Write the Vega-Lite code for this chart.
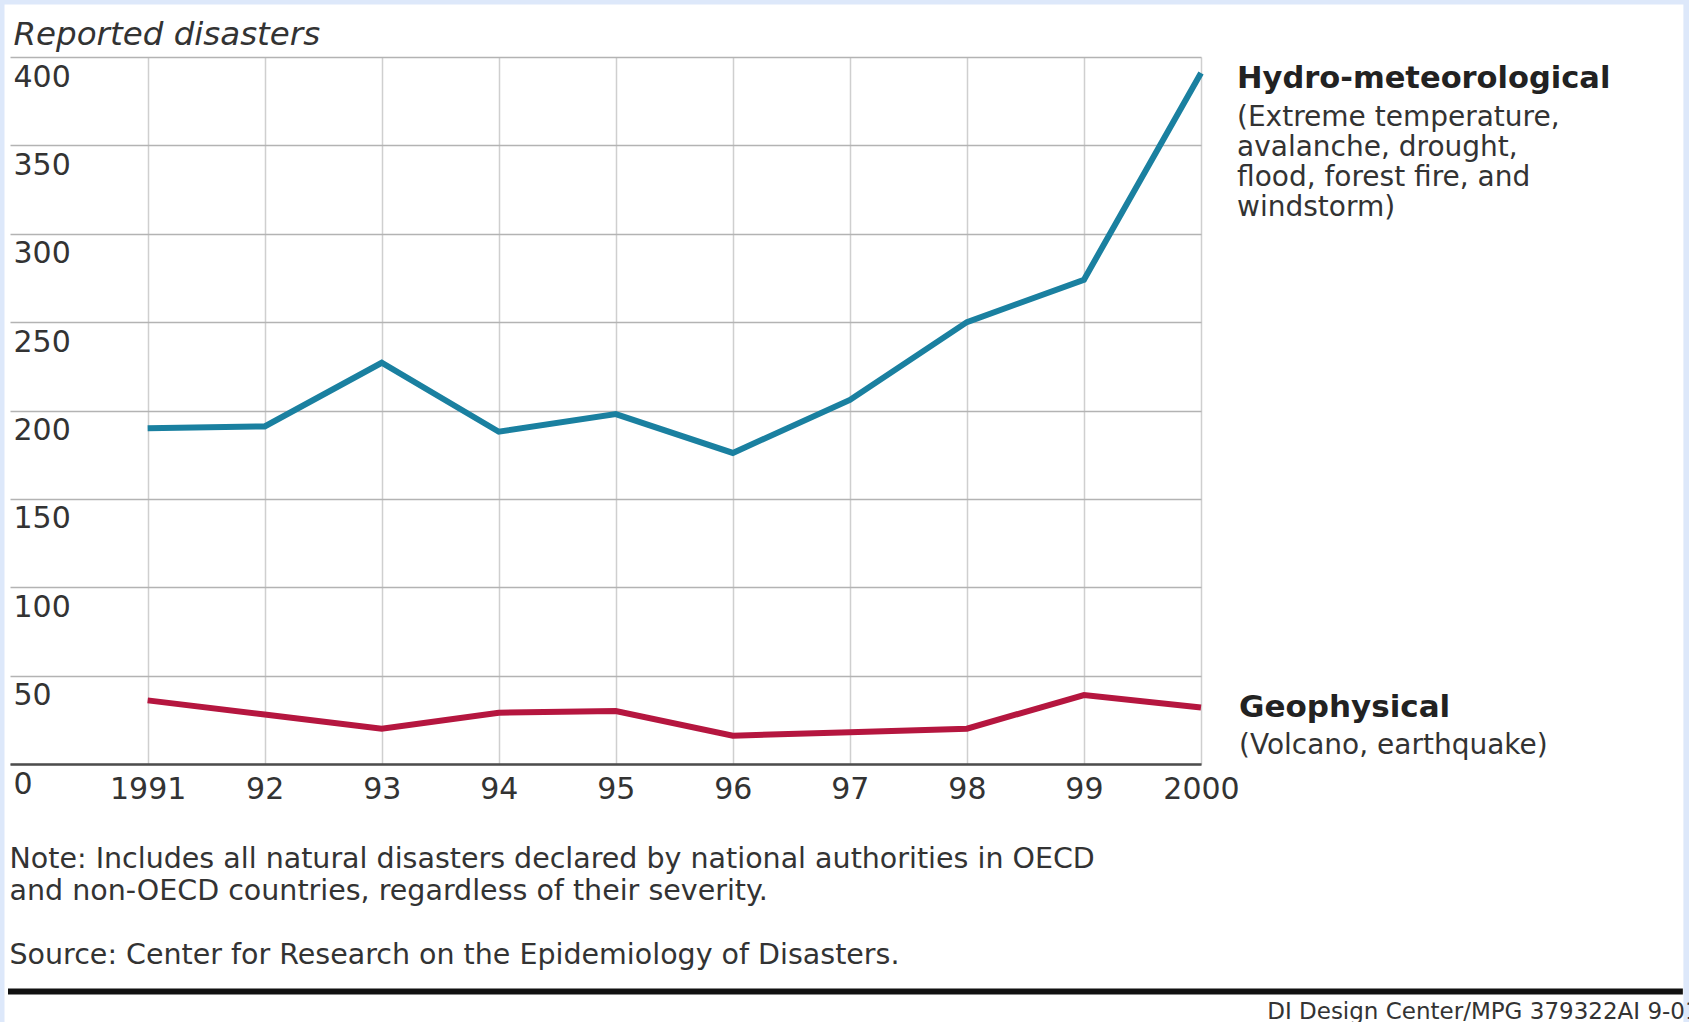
{
  "$schema": "https://vega.github.io/schema/vega-lite/v6.json",
  "autosize": {"type": "none"},
  "width": 1191,
  "height": 707,
  "padding": {"left": 10, "top": 57, "right": 488, "bottom": 258},
  "background": "white",
  "config": {
    "font": "DejaVu Sans",
    "view": {"stroke": null},
    "axis": {"labelColor": "#333333", "titleColor": "#333333"}
  },
  "datasets": {
    "disasters": [
      {"year": 1991, "series": "Hydro-meteorological", "count": 190},
      {"year": 1992, "series": "Hydro-meteorological", "count": 191},
      {"year": 1993, "series": "Hydro-meteorological", "count": 227},
      {"year": 1994, "series": "Hydro-meteorological", "count": 188},
      {"year": 1995, "series": "Hydro-meteorological", "count": 198},
      {"year": 1996, "series": "Hydro-meteorological", "count": 176},
      {"year": 1997, "series": "Hydro-meteorological", "count": 206},
      {"year": 1998, "series": "Hydro-meteorological", "count": 250},
      {"year": 1999, "series": "Hydro-meteorological", "count": 274},
      {"year": 2000, "series": "Hydro-meteorological", "count": 391},
      {"year": 1991, "series": "Geophysical", "count": 36},
      {"year": 1992, "series": "Geophysical", "count": 28},
      {"year": 1993, "series": "Geophysical", "count": 20},
      {"year": 1994, "series": "Geophysical", "count": 29},
      {"year": 1995, "series": "Geophysical", "count": 30},
      {"year": 1996, "series": "Geophysical", "count": 16},
      {"year": 1997, "series": "Geophysical", "count": 18},
      {"year": 1998, "series": "Geophysical", "count": 20},
      {"year": 1999, "series": "Geophysical", "count": 39},
      {"year": 2000, "series": "Geophysical", "count": 32}
    ],
    "labels": [
      {"year": 2000, "series": "Hydro-meteorological", "count": 391, "desc": "(Extreme temperature,\navalanche, drought,\nflood, forest fire, and\nwindstorm)"},
      {"year": 2000, "series": "Geophysical", "count": 32, "desc": "(Volcano, earthquake)"}
    ],
    "credit": [
      {"text": "DI Design Center/MPG 379322AI 9-01"}
    ]
  },
  "layer": [
    {
      "data": {"name": "disasters"},
      "mark": {"type": "line", "strokeWidth": 6, "strokeJoin": "miter"},
      "encoding": {
        "x": {
          "field": "year",
          "type": "quantitative",
          "scale": {"domain": [1989.824, 2000], "nice": false, "zero": false},
          "axis": {
            "values": [1991, 1992, 1993, 1994, 1995, 1996, 1997, 1998, 1999, 2000],
            "labelExpr": "datum.value == 1991 || datum.value == 2000 ? '' + datum.value : substring('' + datum.value, 2)",
            "labelFontSize": 30,
            "labelBaseline": "middle",
            "labelPadding": 25,
            "labelFlush": false,
            "ticks": false,
            "tickSize": 0,
            "domain": true,
            "domainColor": "#4d4d4d",
            "domainWidth": 2.5,
            "grid": true,
            "gridColor": "#cfcfcf",
            "gridWidth": 1.5,
            "titleFontSize": 28.5,
            "titleFontWeight": "normal",
            "titleAlign": "left",
            "titleBaseline": "top",
            "titleLineHeight": 32,
            "titleX": -1,
            "titleY": 80
          },
          "title": [
            "Note: Includes all natural disasters declared by national authorities in OECD",
            "and non-OECD countries, regardless of their severity.",
            "\u200b",
            "Source: Center for Research on the Epidemiology of Disasters."
          ]
        },
        "y": {
          "field": "count",
          "type": "quantitative",
          "scale": {"domain": [0, 400], "nice": false},
          "axis": {
            "values": [0, 50, 100, 150, 200, 250, 300, 350, 400],
            "labelFontSize": 30,
            "labelAlign": "left",
            "labelBaseline": "middle",
            "labelPadding": -3,
            "labelOffset": 20,
            "labelFlush": false,
            "ticks": false,
            "tickSize": 0,
            "domain": false,
            "grid": true,
            "gridColor": "#b3b3b3",
            "gridWidth": 1.5,
            "titleAngle": 0,
            "titleAlign": "left",
            "titleBaseline": "middle",
            "titleFontSize": 32.5,
            "titleFontStyle": "italic",
            "titleFontWeight": "normal",
            "titleX": 3,
            "titleY": -23
          },
          "title": "Reported disasters"
        },
        "color": {
          "field": "series",
          "type": "nominal",
          "scale": {"domain": ["Hydro-meteorological", "Geophysical"], "range": ["#1a80a0", "#b5163f"]},
          "legend": null
        }
      }
    },
    {
      "data": {"name": "labels"},
      "transform": [{"filter": "datum.series == 'Hydro-meteorological'"}],
      "mark": {"type": "text", "align": "left", "baseline": "middle", "dx": 36, "dy": 6, "fontSize": 30.5, "fontWeight": "bold", "color": "#222222"},
      "encoding": {
        "x": {"field": "year", "type": "quantitative"},
        "y": {"field": "count", "type": "quantitative"},
        "text": {"field": "series"}
      }
    },
    {
      "data": {"name": "labels"},
      "transform": [{"filter": "datum.series == 'Geophysical'"}],
      "mark": {"type": "text", "align": "left", "baseline": "middle", "dx": 38, "dy": 1, "fontSize": 31, "fontWeight": "bold", "color": "#222222"},
      "encoding": {
        "x": {"field": "year", "type": "quantitative"},
        "y": {"field": "count", "type": "quantitative"},
        "text": {"field": "series"}
      }
    },
    {
      "data": {"name": "labels"},
      "transform": [{"filter": "datum.series == 'Hydro-meteorological'"}],
      "mark": {"type": "text", "align": "left", "baseline": "top", "dx": 36, "dy": 31, "fontSize": 28, "lineBreak": "\n", "lineHeight": 30, "color": "#333333"},
      "encoding": {
        "x": {"field": "year", "type": "quantitative"},
        "y": {"field": "count", "type": "quantitative"},
        "text": {"field": "desc"}
      }
    },
    {
      "data": {"name": "labels"},
      "transform": [{"filter": "datum.series == 'Geophysical'"}],
      "mark": {"type": "text", "align": "left", "baseline": "top", "dx": 38, "dy": 25, "fontSize": 28, "color": "#333333"},
      "encoding": {
        "x": {"field": "year", "type": "quantitative"},
        "y": {"field": "count", "type": "quantitative"},
        "text": {"field": "desc"}
      }
    },
    {
      "data": {"name": "credit"},
      "mark": {"type": "rule", "strokeWidth": 6, "color": "#111111"},
      "encoding": {
        "x": {"datum": 1989.807, "type": "quantitative"},
        "x2": {"datum": 2004.117},
        "y": {"datum": -128.7, "type": "quantitative"}
      }
    },
    {
      "data": {"name": "credit"},
      "mark": {"type": "rect", "filled": false, "stroke": "#dde8fa", "strokeWidth": 9},
      "encoding": {
        "x": {"datum": 1989.7386, "type": "quantitative"},
        "x2": {"datum": 2004.16},
        "y": {"datum": 432.25, "type": "quantitative"},
        "y2": {"datum": -151.6}
      }
    },
    {
      "data": {"name": "credit"},
      "mark": {"type": "text", "align": "right", "baseline": "middle", "fontSize": 23, "color": "#333333"},
      "encoding": {
        "x": {"datum": 2004.26, "type": "quantitative"},
        "y": {"datum": -140.3, "type": "quantitative"},
        "text": {"field": "text"}
      }
    }
  ]
}
